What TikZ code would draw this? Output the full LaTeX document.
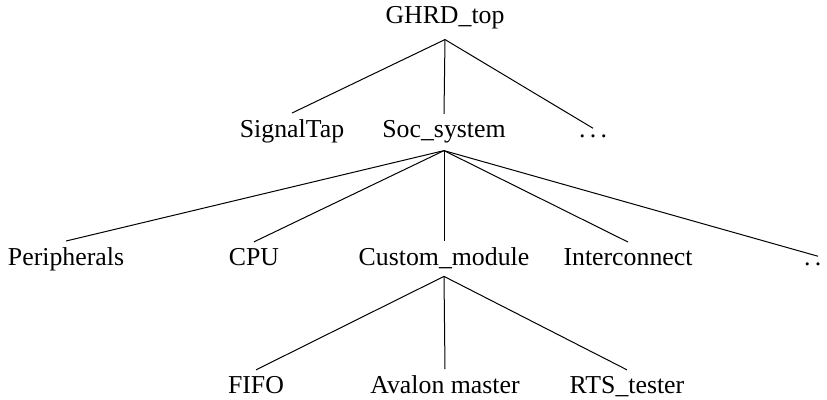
\documentclass[tikz,border=0pt]{standalone}
\usepackage{fontspec}
\setmainfont{Liberation Serif}
\begin{document}
\begin{tikzpicture}[x=0.5pt,y=-0.5pt,
  item/.style={anchor=base, inner sep=3.33pt,
    font=\fontsize{12.9pt}{15pt}\selectfont},
  branch/.style={draw=black, line width=0.5pt}]
\useasboundingbox (0,0) rectangle (827,400);
\clip (0,0) rectangle (827,400);
\newcommand{\moredots}{.\kern.166em.\kern.166em.}

% top level
\node[item] (top) at (445,24) {GHRD\_top};

% second level
\node[item] (tap) at (292,138) {SignalTap};
\node[item] (soc) at (444,138) {Soc\_system};
\node[item] (etc1) at (593,138) {\moredots};

% third level
\node[item] (per) at (66,266) {Peripherals};
\node[item] (cpu) at (254,266) {CPU};
\node[item] (cust) at (444,266) {Custom\_module};
\node[item] (inter) at (628,266) {Interconnect};
\node[item] (etc2) at (818,266) {\moredots};

% fourth level
\node[item] (fifo) at (256,394) {FIFO};
\node[item] (aval) at (445,394) {Avalon master};
\node[item] (rts) at (627,394) {RTS\_tester};

% branches
\foreach \c in {tap,soc,etc1}
  \path[branch] ([yshift=-1.5pt]top.south) -- (\c.north);
\foreach \c in {per,cpu,cust,inter,etc2}
  \path[branch] (soc.south) -- (\c.north);
\foreach \c in {fifo,aval,rts}
  \path[branch] (cust.south) -- (\c.north);
\end{tikzpicture}
\end{document}
